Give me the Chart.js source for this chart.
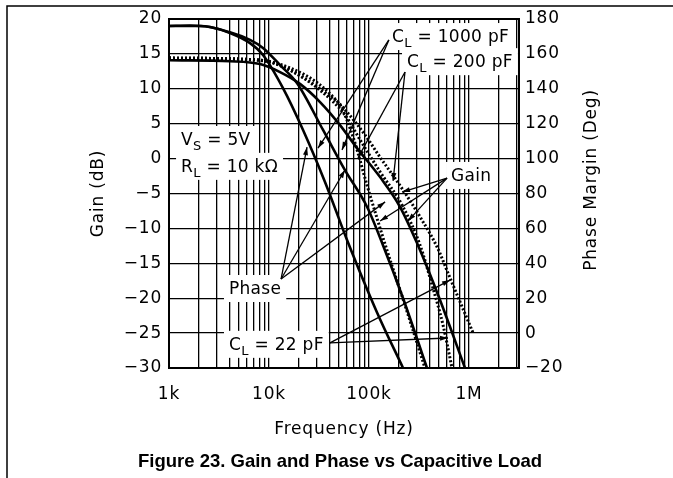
<!DOCTYPE html>
<html>
<head>
<meta charset="utf-8">
<script src="https://cdn.jsdelivr.net/npm/chart.js@4.4.1/dist/chart.umd.min.js"></script>
<style>
  html, body { margin: 0; padding: 0; background: #fff; }
</style>
</head>
<body>
<canvas id="chart" width="673" height="478"></canvas>
<script>
// curves: frequency (Hz) and level on the left (dB) axis
const freqSolidA = [1000, 1620, 2570, 4070, 6460, 8710, 13800, 21900, 36300, 60300, 120000, 219000];
const dbSolidA   = [19, 19.07, 18.85, 18.0, 16.55, 14.85, 10.1, 4.1, -3.35, -11.65, -22.0, -30];

const freqSolidB = [1000, 2040, 4070, 6460, 8710, 12900, 19100, 34700, 57500, 95500, 138000, 219000, 380000];
const dbSolidB   = [19, 19, 18.1, 17.0, 15.85, 13.4, 10.8, 4.1, -1.65, -6.9, -12.4, -20.0, -30];

const freqSolidC = [1000, 4070, 8130, 12900, 20400, 32400, 51300, 75900, 129000, 204000, 302000, 513000, 912000];
const dbSolidC   = [14.1, 13.95, 13.55, 12.4, 10.7, 8.1, 4.8, 1.5, -2.65, -6.9, -12.1, -20.25, -30];

const freqDotA = [1000, 5130, 11000, 24000, 40700, 51300, 60300, 72400, 95500, 120000, 151000, 229000, 363000];
const dbDotA   = [14.4, 14.25, 13.7, 11.25, 8.95, 7.7, 5.5, 2.25, -3.8, -8.5, -13.1, -21.0, -30];

const freqDotB = [1000, 8130, 16200, 32400, 57500, 81300, 129000, 214000, 324000, 427000, 550000, 676000];
const dbDotB   = [14.4, 14.1, 12.7, 9.8, 6.25, 2.7, -1.9, -6.65, -12.4, -18.1, -23.85, -30];

const freqDotC = [1000, 8130, 16200, 32400, 57500, 91200, 129000, 219000, 324000, 479000, 646000, 1100000];
const dbDotC   = [14.4, 14.1, 13.0, 10.55, 7.0, 3.4, 0.2, -4.5, -8.35, -12.65, -17.1, -25.0];

const decadeValues = [1000, 10000, 100000, 1000000];
const decadeNames = ['1k', '10k', '100k', '1M'];

// vertical grid at 1..9 of every decade
const gridFreqs = [];
[1e3, 1e4, 1e5, 1e6].forEach(d => {
  for (let m = 1; m <= 9; m++) if (m * d <= 3162278) gridFreqs.push(m * d);
});

// labels in the plot (anchor = left end of text baseline, in data units)
const notes = [
  { parts: [['C', 0], ['L', 1], [' = 1000 pF', 0]], f: 170000, db: 16.7 },
  { parts: [['C', 0], ['L', 1], [' = 200 pF', 0]], f: 240000, db: 13.1 },
  { parts: [['V', 0], ['S', 1], [' = 5V', 0]], f: 1320, db: 1.95 },
  { parts: [['R', 0], ['L', 1], [' = 10 k\u03A9', 0]], f: 1320, db: -1.9 },
  { parts: [['Phase', 0]], f: 3980, db: -19.4 },
  { parts: [['C', 0], ['L', 1], [' = 22 pF', 0]], f: 3980, db: -27.4 },
  { parts: [['Gain', 0]], f: 661000, db: -3.2 }
];

// pointer lines [from f, from dB, to f, to dB]
const arrows = [
  [158000, 17.0, 30900, 1.5],
  [158000, 17.0, 53700, 1.25],
  [229000, 12.4, 174000, -3.2],
  [229000, 12.4, 77600, 0.1],
  [13200, -17.25, 24000, 1.65],
  [13200, -17.25, 57500, -1.63],
  [13200, -17.25, 145000, -6.2],
  [603000, -2.8, 214000, -4.8],
  [603000, -2.8, 129000, -8.95],
  [603000, -2.8, 245000, -8.95],
  [40700, -26.4, 646000, -17.4],
  [40700, -26.4, 617000, -25.7]
];

const FONT = '"DejaVu Sans", sans-serif';

function curve(freqs, vals, dotted) {
  return {
    data: freqs.map((f, i) => ({ x: f, y: vals[i] })),
    borderColor: '#000',
    borderWidth: dotted ? 3 : 2.6,
    borderDash: dotted ? [2, 2] : [],
    cubicInterpolationMode: 'monotone',
    pointRadius: 0,
    fill: false,
    yAxisID: 'y'
  };
}

function minus(v) {
  return v < 0 ? '\u2212' + Math.abs(v) : String(v);
}

function noteWidth(ctx, n) {
  let w = 0;
  n.parts.forEach(([t, sub]) => {
    ctx.font = (sub ? '13px ' : '17px ') + FONT;
    w += ctx.measureText(t).width;
  });
  return w;
}

function drawArrow(ctx, x1, y1, x2, y2) {
  ctx.beginPath();
  ctx.moveTo(x1, y1);
  ctx.lineTo(x2, y2);
  ctx.stroke();
  const a = Math.atan2(y2 - y1, x2 - x1);
  const L = 8, W = 2.5;
  ctx.beginPath();
  ctx.moveTo(x2, y2);
  ctx.lineTo(x2 - L * Math.cos(a) + W * Math.sin(a), y2 - L * Math.sin(a) - W * Math.cos(a));
  ctx.lineTo(x2 - L * Math.cos(a) - W * Math.sin(a), y2 - L * Math.sin(a) + W * Math.cos(a));
  ctx.closePath();
  ctx.fill();
}

const notesPlugin = {
  id: 'notes',
  beforeDraw(chart) {
    // the figure's lettering is spaced a little wider than the font
    chart.ctx.letterSpacing = '0.8px';
  },
  beforeDatasetsDraw(chart) {
    const { ctx, scales: { x, y } } = chart;
    ctx.save();
    ctx.letterSpacing = '0.3px';
    ctx.fillStyle = '#fff';
    notes.forEach(n => {
      const px = x.getPixelForValue(n.f);
      const py = y.getPixelForValue(n.db);
      const w = noteWidth(ctx, n);
      ctx.fillRect(px - 5, py - 19, w + 10, 27);
    });
    ctx.restore();
  },
  afterDatasetsDraw(chart) {
    const { ctx, scales: { x, y } } = chart;
    ctx.save();
    ctx.strokeStyle = '#000';
    ctx.fillStyle = '#000';
    ctx.lineWidth = 1.3;
    arrows.forEach(([f1, d1, f2, d2]) => {
      drawArrow(ctx, x.getPixelForValue(f1), y.getPixelForValue(d1),
        x.getPixelForValue(f2), y.getPixelForValue(d2));
    });
    ctx.letterSpacing = '0.3px';
    ctx.textBaseline = 'alphabetic';
    ctx.textAlign = 'left';
    notes.forEach(n => {
      let px = x.getPixelForValue(n.f);
      const py = y.getPixelForValue(n.db);
      n.parts.forEach(([t, sub]) => {
        ctx.font = (sub ? '13px ' : '17px ') + FONT;
        ctx.fillText(t, px, py + (sub ? 5 : 0));
        px += ctx.measureText(t).width;
      });
    });
    ctx.restore();
  },
  afterDraw(chart) {
    const { ctx, chartArea: a } = chart;
    ctx.save();
    ctx.strokeStyle = '#000';
    ctx.lineWidth = 2;
    ctx.strokeRect(a.left, a.top, a.right - a.left, a.bottom - a.top);

    // page frame of the datasheet
    ctx.lineWidth = 1.5;
    ctx.beginPath();
    ctx.moveTo(7, 478);
    ctx.lineTo(7, 6);
    ctx.lineTo(673, 6);
    ctx.stroke();

    ctx.fillStyle = '#000';
    ctx.font = '17px ' + FONT;
    ctx.textAlign = 'center';
    ctx.textBaseline = 'middle';
    ctx.translate(592, 180);
    ctx.rotate(-Math.PI / 2);
    ctx.fillText('Phase Margin (Deg)', 0, 0);
    ctx.setTransform(1, 0, 0, 1, 0, 0);

    ctx.letterSpacing = '0px';
    ctx.font = 'bold 18.5px "Liberation Sans", Arial, sans-serif';
    ctx.textBaseline = 'alphabetic';
    ctx.fillText('Figure 23. Gain and Phase vs Capacitive Load', 340, 467);
    ctx.restore();
  }
};

Chart.defaults.font.family = FONT;
Chart.defaults.font.size = 17;
Chart.defaults.color = '#000';

new Chart(document.getElementById('chart'), {
  type: 'line',
  data: {
    datasets: [
      curve(freqSolidA, dbSolidA, false),
      curve(freqSolidB, dbSolidB, false),
      curve(freqSolidC, dbSolidC, false),
      curve(freqDotA, dbDotA, true),
      curve(freqDotB, dbDotB, true),
      curve(freqDotC, dbDotC, true)
    ]
  },
  options: {
    responsive: false,
    animation: false,
    devicePixelRatio: 1,
    layout: { padding: { top: 19, left: 0, right: 0, bottom: 0 } },
    plugins: { legend: { display: false }, tooltip: { enabled: false } },
    scales: {
      x: {
        type: 'logarithmic',
        min: 1000,
        max: 3162278,
        afterBuildTicks: s => { s.ticks = gridFreqs.map(v => ({ value: v })); },
        afterFit: s => { s.height = 110; },
        ticks: {
          autoSkip: false,
          maxRotation: 0,
          padding: 16,
          callback: v => {
            const i = decadeValues.indexOf(v);
            return i >= 0 ? decadeNames[i] : '';
          }
        },
        grid: { color: '#000', lineWidth: 1.3, drawTicks: false },
        border: { display: false },
        title: { display: true, text: 'Frequency (Hz)', padding: { top: 0, bottom: 38 } }
      },
      y: {
        type: 'linear',
        position: 'left',
        min: -30,
        max: 20,
        afterFit: s => { s.width = 169; },
        ticks: { stepSize: 5, padding: 7, callback: v => minus(v) },
        grid: { color: '#000', lineWidth: 1.3, drawTicks: false },
        border: { display: false },
        title: { display: true, text: 'Gain (dB)', padding: { top: 88, bottom: 0 } }
      },
      y2: {
        type: 'linear',
        position: 'right',
        min: -20,
        max: 180,
        afterFit: s => { s.width = 154; },
        ticks: { stepSize: 20, padding: 6, callback: v => minus(v) },
        grid: { display: false, drawTicks: false },
        border: { display: false }
      }
    }
  },
  plugins: [notesPlugin]
});
</script>
</body>
</html>
